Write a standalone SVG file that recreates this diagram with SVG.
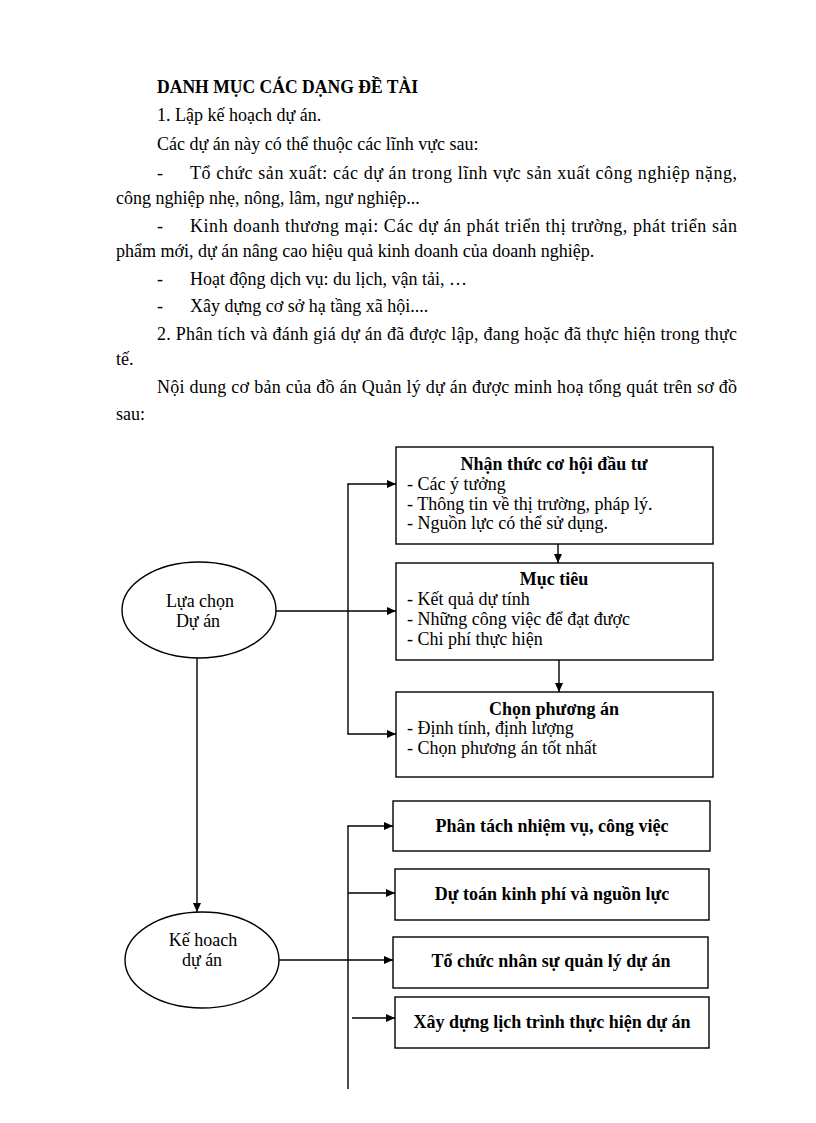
<svg xmlns="http://www.w3.org/2000/svg" width="816" height="1123" viewBox="0 0 816 1123">
<style>
text{font-family:"Liberation Serif","Times New Roman",serif;font-size:18px;fill:#000}
.b{font-weight:bold}
.m{text-anchor:middle}
.box{fill:#fff;stroke:#000;stroke-width:1.4}
.el{fill:#fff;stroke:#000;stroke-width:1.4}
.ln{fill:none;stroke:#000;stroke-width:1.4}
</style>
<defs>
<marker id="ah" markerWidth="9" markerHeight="8" refX="9" refY="4" orient="auto" markerUnits="userSpaceOnUse">
<path d="M0,0 L9,4 L0,8 Z" fill="#000"/>
</marker>
</defs>
<rect width="816" height="1123" fill="#fff"/>
<g id="body">
<text class="b" x="157" y="93" textLength="261" lengthAdjust="spacingAndGlyphs">DANH MỤC CÁC DẠNG ĐỀ TÀI</text>
<text x="157" y="121">1. Lập kế hoạch dự án.</text>
<text x="157" y="150">Các dự án này có thể thuộc các lĩnh vực sau:</text>
<text x="157" y="179">-</text>
<text x="190" y="179" textLength="547" lengthAdjust="spacing">Tổ chức sản xuất: các dự án trong lĩnh vực sản xuất công nghiệp nặng,</text>
<text x="116" y="204">công nghiệp nhẹ, nông, lâm, ngư nghiệp...</text>
<text x="157" y="232">-</text>
<text x="190" y="232" textLength="547" lengthAdjust="spacing">Kinh doanh thương mại: Các dự án phát triển thị trường, phát triển sản</text>
<text x="116" y="257">phẩm mới, dự án nâng cao hiệu quả kinh doanh của doanh nghiệp.</text>
<text x="157" y="285">-</text>
<text x="190" y="285">Hoạt động dịch vụ: du lịch, vận tải, …</text>
<text x="157" y="312">-</text>
<text x="190" y="312">Xây dựng cơ sở hạ tầng xã hội....</text>
<text x="157" y="340" textLength="580" lengthAdjust="spacing">2. Phân tích và đánh giá dự án đã được lập, đang hoặc đã thực hiện trong thực</text>
<text x="116" y="365">tế.</text>
<text x="157" y="393" textLength="580" lengthAdjust="spacing">Nội dung cơ bản của đồ án Quản lý dự án được minh hoạ tổng quát trên sơ đồ</text>
<text x="116" y="420">sau:</text>
</g>
<g id="connectors">
<line class="ln" x1="197" y1="658" x2="197" y2="912" marker-end="url(#ah)"/>
<line class="ln" x1="276" y1="611" x2="396" y2="611" marker-end="url(#ah)"/>
<line class="ln" x1="348" y1="484" x2="348" y2="734"/>
<line class="ln" x1="347.3" y1="484" x2="396" y2="484" marker-end="url(#ah)"/>
<line class="ln" x1="347.3" y1="734" x2="396" y2="734" marker-end="url(#ah)"/>
<line class="ln" x1="558" y1="544" x2="558" y2="563" marker-end="url(#ah)"/>
<line class="ln" x1="559" y1="660" x2="559" y2="692" marker-end="url(#ah)"/>
<line class="ln" x1="348" y1="826" x2="348" y2="1089"/>
<line class="ln" x1="347.3" y1="826" x2="393" y2="826" marker-end="url(#ah)"/>
<line class="ln" x1="348" y1="893" x2="395" y2="893" marker-end="url(#ah)"/>
<line class="ln" x1="279" y1="960" x2="393" y2="960" marker-end="url(#ah)"/>
<line class="ln" x1="352" y1="1018" x2="395" y2="1018" marker-end="url(#ah)"/>
</g>
<g id="lua-chon">
<ellipse class="el" cx="199" cy="610" rx="77" ry="48"/>
<text class="m" x="200" y="607">Lựa chọn</text>
<text class="m" x="198" y="627">Dự án</text>
</g>
<g id="ke-hoach">
<ellipse class="el" cx="202" cy="960" rx="77" ry="48"/>
<text class="m" x="203" y="946">Kế hoach</text>
<text class="m" x="202" y="966">dự án</text>
</g>
<g id="nhan-thuc">
<rect class="box" x="396" y="447" width="317" height="97"/>
<text class="b m" x="554" y="470">Nhận thức cơ hội đầu tư</text>
<text x="407" y="490">- Các ý tưởng</text>
<text x="407" y="510">- Thông tin về thị trường, pháp lý.</text>
<text x="407" y="529">- Nguồn lực có thể sử dụng.</text>
</g>
<g id="muc-tieu">
<rect class="box" x="396" y="563" width="317" height="97"/>
<text class="b m" x="554" y="585">Mục tiêu</text>
<text x="407" y="605">- Kết quả dự tính</text>
<text x="407" y="625">- Những công việc để đạt được</text>
<text x="407" y="645">- Chi phí thực hiện</text>
</g>
<g id="chon-phuong-an">
<rect class="box" x="396" y="692" width="317" height="85"/>
<text class="b m" x="554" y="715">Chọn phương án</text>
<text x="407" y="734">- Định tính, định lượng</text>
<text x="407" y="754">- Chọn phương án tốt nhất</text>
</g>
<g id="phan-tach">
<rect class="box" x="393" y="801" width="317" height="50"/>
<text class="b m" x="552" y="832">Phân tách nhiệm vụ, công việc</text>
</g>
<g id="du-toan">
<rect class="box" x="395" y="869" width="314" height="51"/>
<text class="b m" x="552" y="900">Dự toán kinh phí và nguồn lực</text>
</g>
<g id="to-chuc">
<rect class="box" x="393" y="937" width="315" height="51"/>
<text class="b m" x="551" y="967">Tổ chức nhân sự quản lý dự án</text>
</g>
<g id="xay-dung">
<rect class="box" x="395" y="997" width="314" height="51"/>
<text class="b m" x="552" y="1028">Xây dựng lịch trình thực hiện dự án</text>
</g>
</svg>
